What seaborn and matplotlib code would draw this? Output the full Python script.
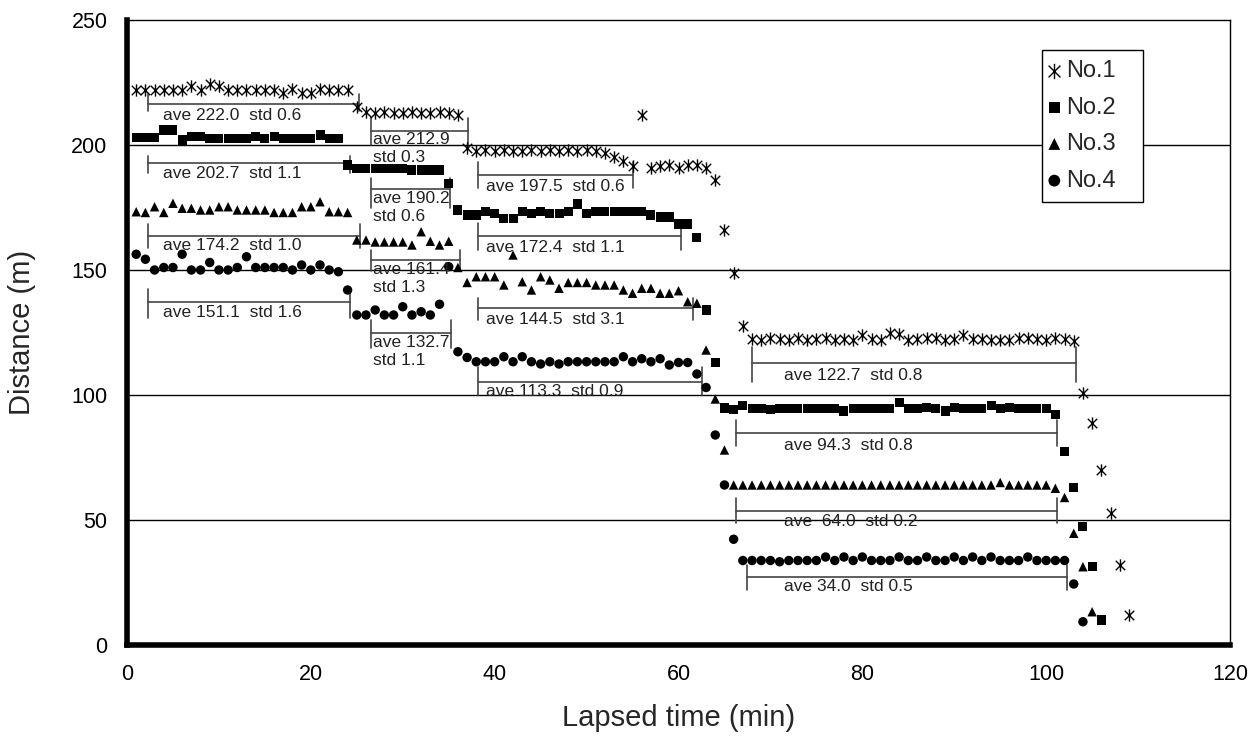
import numpy as np
import pandas as pd
import matplotlib
matplotlib.use("Agg")
import matplotlib.pyplot as plt
from matplotlib.path import Path
import seaborn as sns

# Distance readings (m), one per minute starting at 1 min
no1_dist = [
    222, 222, 222, 222, 222, 222, 223.5, 222, 224.5, 223.5, 222, 222, 222, 222, 222, 222,
    221, 222.5, 221, 221, 222.5, 222, 222, 222,
    215.3,
    213.3, 213, 213.3, 213, 213, 213.3, 213, 213, 213.3, 213,
    212, 198.8,
    197.5, 198, 197.5, 198, 197.5, 197.5, 198, 197.5, 198, 197.5, 198, 197.5, 198, 197.5,
    196.7, 195.2, 193.5, 191.5,
    212,
    190.8, 191.5, 192, 190.8, 192, 192, 191,
    186, 166, 148.7, 127.5,
    122.5, 122, 123, 122.5, 122, 123, 122, 122.5, 123, 122, 122.5, 122, 124, 122.5, 122, 125,
    124.5, 122, 122.5, 123, 123, 122, 122.5, 124, 122.5, 122.5, 122, 122, 122, 123, 123,
    122.5, 122, 123, 122.5, 121.5,
    100.7, 89, 70, 52.7, 32, 12,
]
no2_dist = [
    203, 203, 203, 206, 206, 202, 203.5, 203.5, 202.5, 202.5, 202.5, 202.5, 202.5, 203.5,
    202.5, 203.5, 202.5, 202.5, 202.5, 202.5, 204, 202.5, 202.5,
    192,
    190.5, 190.5, 190.5, 190.5, 190.5, 190.5, 190, 190, 190, 190,
    184.5, 174,
    172, 172, 173.3, 172.7, 170.7, 170.7, 173.3, 172.7, 173.3, 172.7, 172.7, 173.3, 176.4,
    172.5, 173.3, 173.3, 173.3, 173.3, 173.3, 173.3, 172, 171.2, 171.2,
    168.4, 168.4, 163, 134, 113,
    94.8, 94.3, 95.8, 94.5, 94.5, 94.3, 94.5, 94.5, 94.5, 94.5, 94.5, 94.5, 94.5, 93.6,
    94.5, 94.5, 94.5, 94.5, 94.5, 97, 94.5, 94.5, 95, 94.5, 93.6, 95, 94.5, 94.5, 94.5,
    95.8, 94.5, 95, 94.5, 94.5, 94.5, 94.5, 92.3,
    77.3, 63, 47.3, 31.3, 10,
]
no3_dist = [
    173.3, 173, 175.3, 173, 176.7, 174.7, 174.7, 174, 174, 175.3, 175.3, 174, 174, 174, 174,
    173, 173, 173, 175.3, 175.3, 177.3, 173.3, 173.3, 173,
    162, 162, 161.2, 161.2, 161.2, 161.2, 160, 165.3, 161.5, 160, 161.5,
    151,
    145, 147.3, 147.3, 147.3, 144, 156, 145.3, 142, 147.3, 146, 142.7, 145, 145, 145, 144,
    144, 144, 142, 140.7, 142.7, 142.7, 140.7, 140.7, 141.7, 137.3, 136.7,
    118, 98.4, 78,
    64, 64, 64, 64, 64, 64, 64, 64, 64, 64, 64, 64, 64, 64, 64, 64, 64, 64, 64, 64,
    64, 64, 64, 64, 64, 64, 64, 64, 64, 65, 64, 64, 64, 64, 64,
    62.7, 59, 44.7, 31.3, 13.3,
]
no4_dist = [
    156.3, 154.3, 150, 151, 151, 156.3, 150, 150, 153, 150, 150, 151, 155.3, 151, 151, 151,
    151, 150, 152, 150, 152, 150, 149.3,
    142,
    132, 132, 134, 132, 132, 135.3, 132, 133.3, 132, 136.3,
    151.3,
    117.3, 115, 113.3, 113.3, 113.3, 115.3, 113.3, 115.3, 113.3, 112.4, 113.3, 112.4, 113.3,
    113.3, 113.3, 113.3, 113.3, 113.3, 115.3, 113.3, 114.5, 113.3, 114.5, 112, 113, 113,
    108.4, 103, 84, 64, 42.3,
    33.8, 33.8, 33.8, 33.8, 33.3, 33.8, 33.8, 33.8, 33.8, 35.2, 33.8, 35.2, 33.8, 35.2,
    33.8, 33.8, 33.8, 35.2, 33.8, 33.8, 35.2, 33.8, 33.8, 35.2, 33.8, 35.2, 33.8, 35.2,
    33.8, 33.8, 33.8, 35.2, 33.8, 33.8, 33.8, 33.8,
    24.4, 9.3,
]
series_names = ["No.1", "No.2", "No.3", "No.4"]
first_sample_min = 1

x_ticks = [0, 20, 40, 60, 80, 100, 120]
y_ticks = [0, 50, 100, 150, 200, 250]

# Summary brackets: start, end, bar level, tick span (low, high), text, text x, text y
bracket_start = [2.3, 2.3, 2.3, 2.3, 26.5, 26.5, 26.5, 26.5, 38.2, 38.2, 38.2, 38.2,
                 68.0, 66.3, 66.3, 67.5]
bracket_end = [25.2, 24.3, 25.4, 24.3, 37.1, 35.1, 36.2, 35.2, 55.0, 60.3, 61.6, 62.6,
               103.2, 101.2, 101.2, 102.3]
bracket_level = [216.4, 192.7, 163.6, 137.3, 205.7, 182.3, 154.0, 124.7, 188.0, 163.6,
                 134.7, 105.3, 112.7, 84.7, 53.6, 27.3]
bracket_ticks = [(213.5, 220.5), (189.0, 195.5), (159.0, 168.5), (131.0, 142.5),
                 (200.0, 211.0), (175.0, 187.0), (149.5, 158.0), (119.0, 130.0),
                 (182.7, 193.3), (158.0, 169.0), (130.0, 139.0), (100.0, 111.3),
                 (105.2, 119.2), (79.6, 90.0), (48.8, 58.8), (22.0, 32.0)]
bracket_text = ["ave 222.0  std 0.6", "ave 202.7  std 1.1", "ave 174.2  std 1.0",
                "ave 151.1  std 1.6", "ave 212.9\nstd 0.3", "ave 190.2\nstd 0.6",
                "ave 161.4\nstd 1.3", "ave 132.7\nstd 1.1", "ave 197.5  std 0.6",
                "ave 172.4  std 1.1", "ave 144.5  std 3.1", "ave 113.3  std 0.9",
                "ave 122.7  std 0.8", "ave 94.3  std 0.8", "ave  64.0  std 0.2",
                "ave 34.0  std 0.5"]
text_x = [3.9, 3.9, 3.9, 3.9, 26.8, 26.8, 26.8, 26.8, 39.1, 39.1, 39.1, 39.1,
          71.5, 71.5, 71.5, 71.5]
text_y = [212.0, 188.8, 159.6, 133.0, 198.5, 175.0, 146.5, 117.5, 183.3, 159.0, 130.3,
          101.3, 108.0, 80.0, 49.3, 23.3]

frames = []
for name, dist in zip(series_names, [no1_dist, no2_dist, no3_dist, no4_dist]):
    t = first_sample_min + np.arange(len(dist))
    frames.append(pd.DataFrame({"time": t, "distance": dist, "series": name}))
data = pd.concat(frames, ignore_index=True)

sns.set_theme(style="white")
plt.rcParams["font.family"] = ["Liberation Sans", "DejaVu Sans"]

fig = plt.figure(figsize=(12.5, 7.37), dpi=100)
ax = fig.add_axes([127 / 1250, 92 / 737, 1103 / 1250, 625 / 737])

# Asterisk glyph: an X with a vertical stroke through it
asterisk = Path(
    [(-1, -1), (1, 1), (-1, 1), (1, -1), (0, -1.3), (0, 1.3)],
    [Path.MOVETO, Path.LINETO, Path.MOVETO, Path.LINETO, Path.MOVETO, Path.LINETO],
)
styles = {
    "No.1": dict(marker=asterisk, s=78, linewidth=1.0, edgecolor="black"),
    "No.2": dict(marker="s", s=42, linewidth=0, edgecolor="none"),
    "No.3": dict(marker="^", s=46, linewidth=0, edgecolor="none"),
    "No.4": dict(marker="o", s=46, linewidth=0, edgecolor="none"),
}

ax.set_axisbelow(True)
for y in y_ticks[1:-1]:
    ax.axhline(y, color="black", linewidth=1.0, zorder=0)

for name in series_names:
    sns.scatterplot(data=data[data["series"] == name], x="time", y="distance",
                    color="black", label=name, ax=ax, zorder=3, **styles[name])

for x0, x1, lv, (tl, th), txt, tx, ty in zip(bracket_start, bracket_end, bracket_level,
                                              bracket_ticks, bracket_text, text_x, text_y):
    ax.plot([x0, x1], [lv, lv], color="#444444", linewidth=1.2, zorder=2)
    ax.plot([x0, x0], [tl, th], color="#444444", linewidth=1.2, zorder=2)
    ax.plot([x1, x1], [tl, th], color="#444444", linewidth=1.2, zorder=2)
    ax.text(tx, ty, txt, fontsize=12.5, ha="left", va="center", color="#222222",
            linespacing=1.25, zorder=4)

ax.set_xlim(0, 120)
ax.set_ylim(0, 250)
ax.set_xticks(x_ticks)
ax.set_yticks(y_ticks)
ax.tick_params(axis="both", direction="in", length=7, width=3.5, color="black",
               labelsize=15.5, pad=14, labelcolor="black")

for side in ["left", "bottom"]:
    ax.spines[side].set_linewidth(4.0)
    ax.spines[side].set_color("black")
for side in ["top", "right"]:
    ax.spines[side].set_linewidth(1.0)
    ax.spines[side].set_color("black")

ax.set_xlabel("Lapsed time (min)", fontsize=21, va="center")
ax.set_ylabel("Distance (m)", fontsize=21, va="center")
ax.xaxis.set_label_coords(0.5, -0.117)
ax.yaxis.set_label_coords(-0.095, 0.5)

# Legend box spans a fixed width in the upper right of the plot area
leg = ax.legend(loc="upper left", bbox_to_anchor=(0.8296, 0.70, 0.0916, 0.252),
                mode="expand", borderaxespad=0, fontsize=17, frameon=True,
                fancybox=False, framealpha=1, edgecolor="black",
                handletextpad=0.4, labelspacing=0.62, borderpad=0.42,
                handlelength=0.2, markerscale=1.25)
leg.get_frame().set_linewidth(1.0)

fig.savefig("out.png", dpi=100, facecolor="white")
